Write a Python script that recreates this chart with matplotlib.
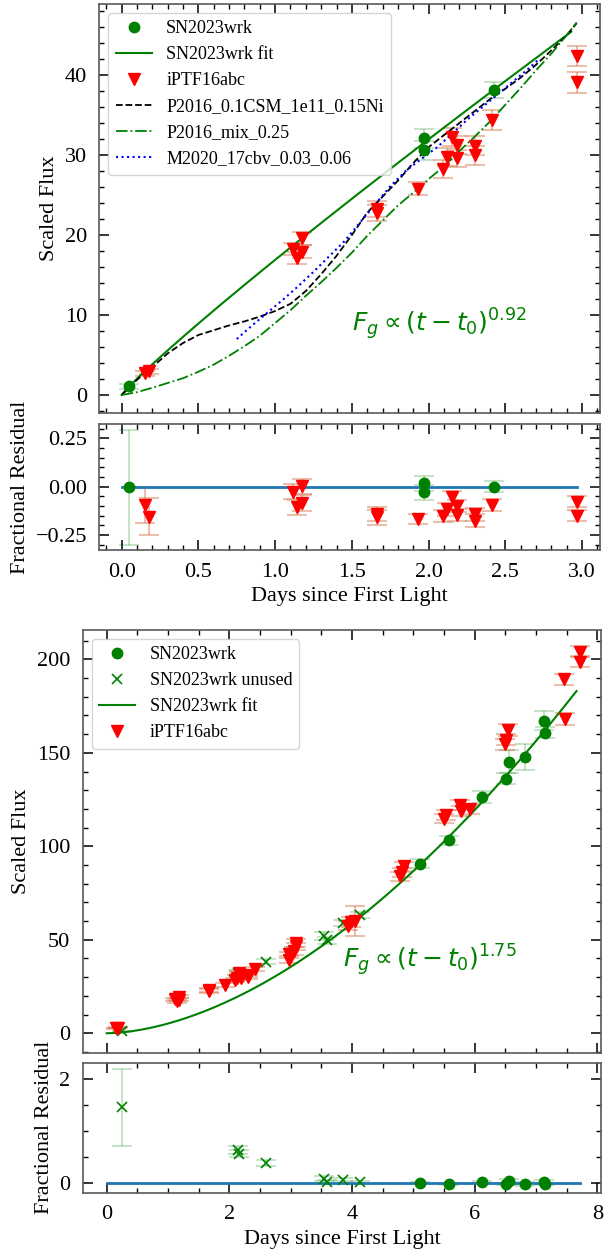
import numpy as np
import matplotlib.pyplot as plt
from matplotlib.ticker import MultipleLocator

plt.rcParams['font.family'] = ['Liberation Serif', 'DejaVu Serif']
plt.rcParams['mathtext.fontset'] = 'dejavusans'
plt.rcParams['font.size'] = 13
plt.rcParams['axes.edgecolor'] = '0.35'
plt.rcParams['axes.linewidth'] = 1.2

# --- SN2023wrk, g band (early part, fitted) ---
t_wrk = [0.05, 1.97, 1.97, 2.424]
f_wrk = [1.07, 32.1, 30.6, 38.2]
e_wrk = [0.32, 1.2, 1.2, 1.0]

# --- SN2023wrk, full rise ---
t_wrk2 = [5.11, 5.573, 6.117, 6.514, 6.563, 6.824, 7.134, 7.15]
f_wrk2 = [90.7, 103.2, 126.4, 136.2, 145.3, 147.8, 167.2, 160.8]
e_wrk2 = [2.5, 2.5, 3.0, 3.0, 6.0, 7.0, 5.0, 3.0]

t_unused = [0.245, 2.14, 2.16, 2.60, 3.55, 3.59, 3.86, 4.13]
f_unused = [1.09, 32.2, 31.4, 38.3, 52.0, 49.6, 59.1, 63.4]
e_unused = [0.33, 1.5, 1.5, 1.5, 2.0, 2.0, 1.5, 1.5]

# --- iPTF16abc ---
t_abc = [0.152, 0.180, 1.115, 1.145, 1.173, 1.173, 1.663, 1.663, 1.930,
         2.092, 2.122, 2.150, 2.186, 2.186, 2.300, 2.300, 2.413, 2.968,
         2.968, 3.06, 3.08, 3.09, 3.93, 3.98, 4.05, 4.79, 4.81, 4.84,
         5.50, 5.53, 5.76, 5.78, 5.93, 6.50, 6.51, 6.54, 7.45, 7.47,
         7.72, 7.72]
f_abc = [2.71, 2.95, 18.2, 17.1, 19.6, 17.9, 23.2, 22.7, 25.8,
         28.3, 29.8, 32.3, 31.3, 29.6, 31.2, 30.0, 34.4, 42.4,
         39.1, 44.0, 46.5, 48.3, 57.5, 59.5, 60.0, 84.0, 86.0, 89.2,
         114.8, 116.8, 122.1, 118.8, 119.8, 154.5, 157.0, 162.2, 189.3, 168.1,
         204.1, 198.7]
e_abc = [0.28, 0.34, 0.75, 0.75, 0.8, 0.8, 1.0, 1.0, 0.85,
         1.1, 1.1, 1.1, 1.1, 1.1, 1.2, 1.2, 1.2, 1.3,
         1.3, 2.0, 2.0, 2.0, 2.5, 2.5, 8.0, 2.5, 2.5, 2.5,
         2.5, 2.5, 2.5, 2.5, 2.5, 3.0, 3.0, 3.0, 3.0, 3.0,
         3.0, 3.0]

# --- model light curves (early rise) ---
t_csm = [0.0, 0.1, 0.2, 0.3, 0.4, 0.5, 0.6, 0.7, 0.8, 0.9, 1.0, 1.1, 1.2,
         1.3, 1.4, 1.5, 1.6, 1.7, 1.8, 1.9, 2.0, 2.1, 2.2, 2.3, 2.4, 2.5,
         2.6, 2.7, 2.8, 2.9, 2.965]
f_csm = [0.0, 1.9, 3.5, 5.2, 6.5, 7.5, 8.1, 8.7, 9.2, 9.8, 10.5, 11.4, 13.0,
         15.1, 17.4, 20.0, 22.8, 24.8, 26.8, 29.0, 31.0, 32.5, 34.0, 35.5,
         37.0, 38.3, 39.7, 41.3, 43.1, 45.0, 46.5]

t_mix = [0.0, 0.1, 0.2, 0.3, 0.4, 0.5, 0.6, 0.7, 0.8, 0.9, 1.0, 1.1, 1.2,
         1.3, 1.4, 1.5, 1.6, 1.7, 1.8, 1.9, 2.0, 2.1, 2.2, 2.3, 2.4, 2.5,
         2.6, 2.7, 2.8, 2.9, 2.965]
f_mix = [0.0, 0.35, 0.9, 1.5, 2.1, 2.9, 3.8, 4.9, 6.1, 7.4, 9.0, 10.6, 12.4,
         14.1, 15.9, 17.8, 19.9, 21.8, 23.7, 25.3, 27.0, 28.6, 30.5, 32.3,
         34.2, 36.3, 38.4, 40.6, 42.7, 45.0, 46.6]

t_m20 = [0.75, 0.85, 0.95, 1.05, 1.15, 1.25, 1.35, 1.45, 1.55, 1.65, 1.75,
         1.85, 1.95, 2.05, 2.15, 2.25, 2.35, 2.45, 2.55, 2.65, 2.72]
f_m20 = [7.0, 8.7, 10.3, 11.9, 13.6, 15.4, 17.3, 19.2, 21.5, 23.8, 26.1,
         28.0, 29.5, 30.9, 32.6, 34.4, 36.0, 37.6, 39.2, 40.8, 42.0]

# power-law fits F = A t^n
amp1, idx1, tend1 = 16.9, 0.92, 2.93
amp2, idx2, tend2 = 5.19, 1.75, 7.66

GREEN = 'green'
RED = 'red'
ECOL_G = (0.0, 0.5, 0.0, 0.22)
ECOL_R = (0.82, 0.45, 0.30, 0.45)
TICK_FS = 16
LABEL_FS = 16


def style(ax):
    ax.tick_params(which='both', direction='in', top=True, right=True,
                   color='black', labelsize=TICK_FS, pad=9)
    ax.tick_params(which='major', length=7, width=1.1)
    ax.tick_params(which='minor', length=3.5, width=1.0)


def ebar(ax, t, f, e, ecol):
    ax.errorbar(t, f, yerr=e, fmt='none', ecolor=ecol, elinewidth=1.5,
                capsize=7, capthick=1.5, zorder=1)


t_abc = np.array(t_abc)
f_abc = np.array(f_abc)
e_abc = np.array(e_abc)
early = t_abc < 3.0

fig = plt.figure(figsize=(6.04, 12.56), dpi=100)
ax1 = fig.add_axes([0.1646, 0.6709, 0.8288, 0.3259])
ax2 = fig.add_axes([0.1646, 0.5621, 0.8288, 0.1003], sharex=ax1)
ax3 = fig.add_axes([0.1371, 0.1619, 0.8580, 0.3365])
ax4 = fig.add_axes([0.1371, 0.0504, 0.8580, 0.1035], sharex=ax3)

# ---------------- top: early rise ----------------
tf = np.linspace(0, tend1, 300)
ebar(ax1, t_wrk, f_wrk, e_wrk, ECOL_G)
ebar(ax1, t_abc[early], f_abc[early], e_abc[early], ECOL_R)
h1, = ax1.plot(t_wrk, f_wrk, 'o', color=GREEN, ms=7.5, label='SN2023wrk', zorder=3)
h2, = ax1.plot(tf, amp1 * tf**idx1, '-', color=GREEN, lw=1.5, label='SN2023wrk fit')
h3, = ax1.plot(t_abc[early], f_abc[early], 'v', color=RED, ms=8.5,
               label='iPTF16abc', zorder=3)
h4, = ax1.plot(t_csm, f_csm, '--', color='black', lw=1.3,
               label='P2016_0.1CSM_1e11_0.15Ni')
h5, = ax1.plot(t_mix, f_mix, '-.', color=GREEN, lw=1.3, label='P2016_mix_0.25')
h6, = ax1.plot(t_m20, f_m20, ':', color='blue', lw=1.5,
               label='M2020_17cbv_0.03_0.06')
ax1.legend(handles=[h1, h2, h3, h4, h5, h6], loc='upper left', fontsize=13)
ax1.text(1.5, 8, r'$F_g \propto (t-t_0)^{0.92}$', color=GREEN, fontsize=18)
ax1.set_ylim(-2.3, 48.9)
ax1.set_xlim(-0.145, 3.117)
ax1.set_ylabel('Scaled Flux', fontsize=LABEL_FS)
ax1.yaxis.set_major_locator(MultipleLocator(10))
ax1.yaxis.set_minor_locator(MultipleLocator(2))
ax1.xaxis.set_major_locator(MultipleLocator(0.5))
ax1.xaxis.set_minor_locator(MultipleLocator(0.1))
style(ax1)
ax1.tick_params(labelbottom=False)

fit_w = amp1 * np.array(t_wrk)**idx1
fit_a = amp1 * t_abc[early]**idx1
res_w = np.array(f_wrk) / fit_w - 1
res_a = f_abc[early] / fit_a - 1
ebar(ax2, t_wrk, res_w, np.array(e_wrk) / fit_w, ECOL_G)
ebar(ax2, t_abc[early], res_a, e_abc[early] / fit_a, ECOL_R)
ax2.plot(t_wrk, res_w, 'o', color=GREEN, ms=7.5, zorder=3)
ax2.plot(t_abc[early], res_a, 'v', color=RED, ms=8.5, zorder=3)
ax2.plot([0, t_abc[early].max()], [0, 0], color='C0', lw=2, zorder=2)
ax2.set_ylim(-0.327, 0.324)
ax2.yaxis.set_major_locator(MultipleLocator(0.25))
ax2.yaxis.set_minor_locator(MultipleLocator(0.05))
ax2.set_xlabel('Days since First Light', fontsize=LABEL_FS)
ax2.set_ylabel('Fractional Residual', fontsize=LABEL_FS)
style(ax2)

# ---------------- bottom: full rise ----------------
tf2 = np.linspace(0, tend2, 300)
ebar(ax3, t_wrk2, f_wrk2, e_wrk2, ECOL_G)
ebar(ax3, t_unused, f_unused, e_unused, ECOL_G)
ebar(ax3, t_abc, f_abc, e_abc, ECOL_R)
g1, = ax3.plot(t_wrk2, f_wrk2, 'o', color=GREEN, ms=7.5, label='SN2023wrk', zorder=3)
g2, = ax3.plot(t_unused, f_unused, 'x', color=GREEN, ms=7, mew=1.2,
               label='SN2023wrk unused', zorder=3)
g3, = ax3.plot(tf2, amp2 * tf2**idx2, '-', color=GREEN, lw=1.5, label='SN2023wrk fit')
g4, = ax3.plot(t_abc, f_abc, 'v', color=RED, ms=8.5, label='iPTF16abc', zorder=3)
ax3.legend(handles=[g1, g2, g3, g4], loc='upper left', fontsize=13)
ax3.text(3.86, 35, r'$F_g \propto (t-t_0)^{1.75}$', color=GREEN, fontsize=18)
ax3.set_ylim(-10.4, 215.7)
ax3.set_xlim(-0.39, 8.06)
ax3.set_ylabel('Scaled Flux', fontsize=LABEL_FS)
ax3.yaxis.set_major_locator(MultipleLocator(50))
ax3.yaxis.set_minor_locator(MultipleLocator(10))
ax3.xaxis.set_major_locator(MultipleLocator(2))
ax3.xaxis.set_minor_locator(MultipleLocator(0.5))
style(ax3)
ax3.tick_params(labelbottom=False)

fit_w2 = amp2 * np.array(t_wrk2)**idx2
fit_u = amp2 * np.array(t_unused)**idx2
res_w2 = np.array(f_wrk2) / fit_w2 - 1
res_u = np.array(f_unused) / fit_u - 1
ebar(ax4, t_wrk2, res_w2, np.array(e_wrk2) / fit_w2, ECOL_G)
ebar(ax4, t_unused, res_u, np.array(e_unused) / fit_u, ECOL_G)
ax4.plot(t_wrk2, res_w2, 'o', color=GREEN, ms=7.5, zorder=3)
ax4.plot(t_unused, res_u, 'x', color=GREEN, ms=7, mew=1.2, zorder=3)
ax4.plot([0, t_abc.max()], [0, 0], color='C0', lw=2, zorder=2)
ax4.set_ylim(-0.18, 2.32)
ax4.yaxis.set_major_locator(MultipleLocator(2))
ax4.yaxis.set_minor_locator(MultipleLocator(0.5))
ax4.set_xlabel('Days since First Light', fontsize=LABEL_FS)
ax4.set_ylabel('Fractional Residual', fontsize=LABEL_FS)
style(ax4)

fig.savefig('out.png', dpi=100)
